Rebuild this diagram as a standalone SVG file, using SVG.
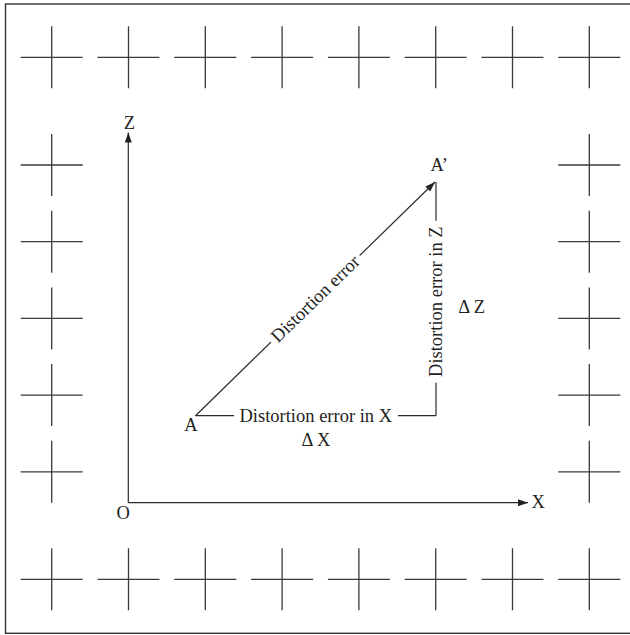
<svg xmlns="http://www.w3.org/2000/svg" width="630" height="635" viewBox="0 0 630 635">
<defs>
<style>
.ln{stroke:#2a2a2a;stroke-width:1.2;fill:none}
.cr{stroke:#3a3a3a;stroke-width:1.3;fill:none}
.t{font-family:"Liberation Serif","Times New Roman",serif;font-size:18.5px;fill:#222}
.bg{fill:#fff}
</style>
<marker id="ah" markerUnits="userSpaceOnUse" markerWidth="10" markerHeight="8" refX="10" refY="3.5" orient="auto">
<path d="M0,0 L10,3.5 L0,7 z" fill="#222"/>
</marker>
<g id="cross"><path class="cr" d="M-31,0 H31 M0,-31 V31"/></g>
</defs>
<rect x="5.5" y="4" width="630" height="629.3" fill="#fff" stroke="#333" stroke-width="1.4"/>
<g id="grid">
<use href="#cross" x="51.7" y="57.3"/><use href="#cross" x="128.5" y="57.3"/><use href="#cross" x="205.3" y="57.3"/><use href="#cross" x="282.1" y="57.3"/><use href="#cross" x="358.9" y="57.3"/><use href="#cross" x="435.7" y="57.3"/><use href="#cross" x="512.5" y="57.3"/><use href="#cross" x="589.3" y="57.3"/>
<use href="#cross" x="51.7" y="579.3"/><use href="#cross" x="128.5" y="579.3"/><use href="#cross" x="205.3" y="579.3"/><use href="#cross" x="282.1" y="579.3"/><use href="#cross" x="358.9" y="579.3"/><use href="#cross" x="435.7" y="579.3"/><use href="#cross" x="512.5" y="579.3"/><use href="#cross" x="589.3" y="579.3"/>
<use href="#cross" x="51.7" y="165"/><use href="#cross" x="51.7" y="241.7"/><use href="#cross" x="51.7" y="318.4"/><use href="#cross" x="51.7" y="395.1"/><use href="#cross" x="51.7" y="471.8"/>
<use href="#cross" x="589.3" y="165"/><use href="#cross" x="589.3" y="241.7"/><use href="#cross" x="589.3" y="318.4"/><use href="#cross" x="589.3" y="395.1"/><use href="#cross" x="589.3" y="471.8"/>
</g>
<g id="connectors">
<line class="ln" x1="128.3" y1="502.7" x2="128.3" y2="132.5" marker-end="url(#ah)"/>
<line class="ln" x1="128.3" y1="502.7" x2="528" y2="502.7" marker-end="url(#ah)"/>
<line class="ln" x1="195.5" y1="415.7" x2="436" y2="415.7"/>
<line class="ln" x1="436" y1="415.7" x2="436" y2="182"/>
<line class="ln" x1="195.5" y1="415.7" x2="435" y2="182" marker-end="url(#ah)"/>
</g>
<g id="label-dx">
<rect class="bg" x="234" y="406" width="164" height="18"/>
<text class="t" x="315.8" y="421.7" text-anchor="middle">Distortion error in X</text>
</g>
<g id="label-dz" transform="translate(436,301.7) rotate(-90)">
<rect class="bg" x="-81" y="-9" width="162" height="18"/>
<text class="t" x="0" y="6" text-anchor="middle">Distortion error in Z</text>
</g>
<g id="label-d" transform="translate(315.3,298.8) rotate(-44.27)">
<rect class="bg" x="-62" y="-9" width="124" height="18"/>
<text class="t" x="0" y="6" text-anchor="middle">Distortion error</text>
</g>
<g id="labels">
<text class="t" x="129.3" y="128.5" text-anchor="middle">Z</text>
<text class="t" x="123.3" y="518.5" text-anchor="middle">O</text>
<text class="t" x="531.5" y="507.7">X</text>
<text class="t" x="191" y="430.7" text-anchor="middle">A</text>
<text class="t" x="430.5" y="170.7">A’</text>
<text class="t" x="316" y="446" text-anchor="middle">Δ X</text>
<text class="t" x="471.7" y="313" text-anchor="middle">Δ Z</text>
</g>
</svg>
